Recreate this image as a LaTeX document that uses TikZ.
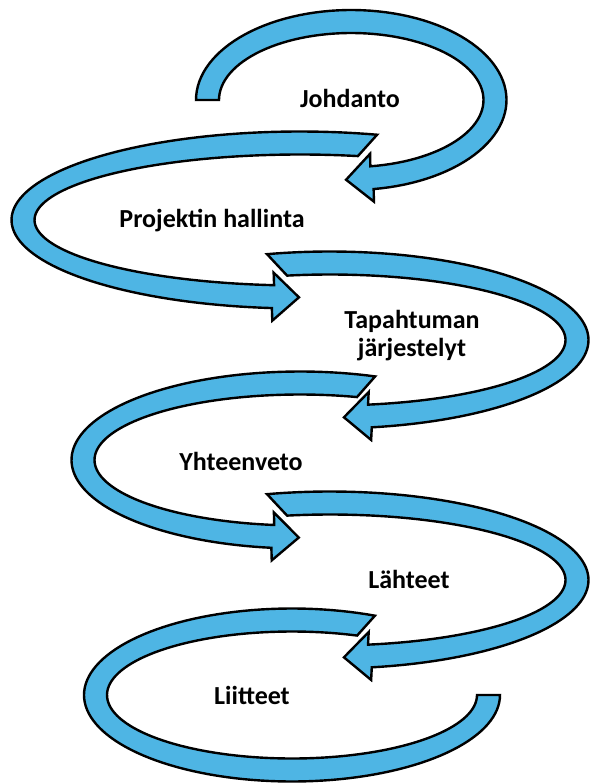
\documentclass[tikz,border=0pt]{standalone}
\usepackage{fontspec}
\setmainfont{Carlito}
\definecolor{bandblue}{HTML}{4EB5E4}
\tikzset{
  band/.style={fill=bandblue, draw=black, line width=2.4pt, line join=miter},
  caption/.style={font=\fontsize{26}{28}\selectfont\bfseries, text=black, inner sep=0pt, align=center}
}
% half width of a band, half width and length of an arrow head
\newcommand\bandhalf{11.5}
\newcommand\headhalf{24}
\newcommand\headlen{26}
% elliptical band with an arrow head:
% #1,#2 centre; #3,#4 radii of the middle line;
% #5 start angle of the outer edge, #6 start angle of the inner edge, #7 angle of the head base
\newcommand{\headband}[7]{%
  \pgfmathsetmacro\bCx{#1}%
  \pgfmathsetmacro\bCy{#2}%
  \pgfmathsetmacro\bAo{#3+\bandhalf}%
  \pgfmathsetmacro\bBo{#4+\bandhalf}%
  \pgfmathsetmacro\bAi{#3-\bandhalf}%
  \pgfmathsetmacro\bBi{#4-\bandhalf}%
  \pgfmathsetmacro\bDir{sign(#7-#5)}%
  \pgfmathsetmacro\bTx{-\bDir*#3*sin(#7)}%
  \pgfmathsetmacro\bTy{\bDir*#4*cos(#7)}%
  \pgfmathsetmacro\bTl{veclen(\bTx,\bTy)}%
  \pgfmathsetmacro\bUx{\bTx/\bTl}%
  \pgfmathsetmacro\bUy{\bTy/\bTl}%
  \pgfmathsetmacro\bNxr{#4*cos(#7)}%
  \pgfmathsetmacro\bNyr{#3*sin(#7)}%
  \pgfmathsetmacro\bNl{veclen(\bNxr,\bNyr)}%
  \pgfmathsetmacro\bNx{\bNxr/\bNl}%
  \pgfmathsetmacro\bNy{\bNyr/\bNl}%
  \pgfmathsetmacro\bX{#1+#3*cos(#7)}%
  \pgfmathsetmacro\bY{#2+#4*sin(#7)}%
  \draw[band] plot[domain=#5:#7,samples=90] ({\bCx+\bAo*cos(\x)},{\bCy+\bBo*sin(\x)})
    -- ({\bX+\headhalf*\bNx},{\bY+\headhalf*\bNy})
    -- ({\bX+\headlen*\bUx},{\bY+\headlen*\bUy})
    -- ({\bX-\headhalf*\bNx},{\bY-\headhalf*\bNy})
    -- plot[domain=#7:#6,samples=90] ({\bCx+\bAi*cos(\x)},{\bCy+\bBi*sin(\x)})
    -- cycle;
}
\begin{document}
\begin{tikzpicture}[x=1pt,y=-1pt]
  \useasboundingbox (0,0) rectangle (589,784);

  % the spiral of bands, top to bottom
  \headband{351.25}{100}{143.75}{78.5}{180}{180}{441.7}
  \headband{300}{220}{277}{77}{285.5}{282.6}{95.6}
  \headband{330}{340}{247}{77}{255.9}{259.5}{440.7}
  \headband{300}{460}{217}{77}{289.2}{286.1}{97.2}
  \headband{330}{580}{247}{77}{255.9}{259.5}{440.7}
  % last band ends flat on the right
  \draw[band] plot[domain=293.5:0,samples=120] ({292+208*cos(\x)},{695+86.5*sin(\x)})
    -- plot[domain=0:290.6,samples=120] ({292+185*cos(\x)},{695+63.5*sin(\x)}) -- cycle;

  % section titles
  \node[caption, anchor=base] (johdanto) at (350,107) {Johdanto};
  \node[caption, anchor=base] (projekti) at (212,227) {Projektin hallinta};
  \node[caption] (tapahtuma) at (412,336) {Tapahtuman\\järjestelyt};
  \node[caption, anchor=base] (yhteenveto) at (241,470) {Yhteenveto};
  \node[caption, anchor=base] (lahteet) at (409,588) {Lähteet};
  \node[caption, anchor=base] (liitteet) at (252,704) {Liitteet};
\end{tikzpicture}
\end{document}
